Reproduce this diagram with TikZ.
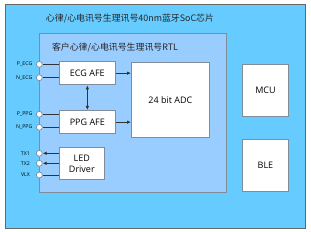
\documentclass[tikz,border=0pt]{standalone}
\usepackage{fontspec}
\setmainfont{Open Sans}
\newfontfamily\cjk{Noto Sans CJK SC}
\usetikzlibrary{arrows.meta}
\definecolor{outerblue}{HTML}{66CCFF}
\definecolor{innerblue}{HTML}{99CCFF}
\definecolor{edgegray}{HTML}{7F8C99}
\tikzset{
  blk/.style={draw=edgegray, line width=0.8pt, fill=white, inner sep=0pt, anchor=north west},
  pin/.style={circle, draw=edgegray, line width=0.7pt, fill=white, minimum size=6pt, inner sep=0pt},
  pinlab/.style={font=\fontsize{5.2}{6}\selectfont, anchor=east, inner sep=0pt},
  wire/.style={line width=0.8pt, draw=black!80},
  arr/.style={wire, -{Latex[length=4pt,width=3.5pt]}},
  darr/.style={wire, {Latex[length=4pt,width=3.5pt]}-{Latex[length=4pt,width=3.5pt]}},
  lbl/.style={font=\fontsize{9}{10}\selectfont, align=center}
}
\begin{document}
\begin{tikzpicture}[x=1pt,y=-1pt]
\useasboundingbox (0,0) rectangle (311,232);
\fill[white] (0,0) rectangle (311,232);
% outer chip
\node[draw=gray!80!black, line width=0.8pt, fill=outerblue, minimum width=300pt, minimum height=224pt, inner sep=0pt, anchor=north west] (chip) at (5,4.5) {};
\node[font=\cjk\fontsize{8.9}{10}\selectfont, text=black!85] (title) at (130,19) {心律/心电讯号生理讯号40nm蓝牙SoC芯片};
% inner RTL
\node[draw=edgegray, line width=0.8pt, fill=innerblue, minimum width=187pt, minimum height=158.5pt, inner sep=0pt, anchor=north west] (rtl) at (39.3,33.5) {};
\node[font=\cjk\fontsize{8.9}{10}\selectfont, text=black!85] (rtltitle) at (115,47.5) {客户心律/心电讯号生理讯号RTL};
% blocks
\node[blk, minimum width=56.5pt, minimum height=23.5pt] (ecg) at (58.7,61) {};
\node[lbl] at (ecg.center) {ECG AFE};
\node[blk, minimum width=56.5pt, minimum height=23.5pt] (ppg) at (58.7,110) {};
\node[lbl] at (ppg.center) {PPG AFE};
\node[blk, minimum width=78pt, minimum height=74.5pt] (adc) at (131,62.3) {};
\node[lbl] at (adc.center) {24 bit ADC};
\node[blk, minimum width=45.5pt, minimum height=32pt] (led) at (58.7,147.3) {};
\node[lbl, font=\fontsize{9}{10.5}\selectfont] at (led.center) {LED\\Driver};
\node[blk, minimum width=46.5pt, minimum height=51.5pt] (mcu) at (241.8,64.5) {};
\node[lbl] at (mcu.center) {MCU};
\node[blk, minimum width=46.5pt, minimum height=51.5pt] (ble) at (241.8,139.5) {};
\node[lbl] at (ble.center) {BLE};
% pins
\node[pin] (pecg) at (39.3,64.3) {};
\node[pin] (necg) at (39.3,77.7) {};
\node[pin] (pppg) at (39.3,114.3) {};
\node[pin] (nppg) at (39.3,127.3) {};
\node[pin] (tx1) at (39.3,153.3) {};
\node[pin] (tx2) at (39.3,163.3) {};
\node[pin] (vlx) at (39.3,175) {};
\node[pinlab] at (32.5,64.3) {P\_ECG};
\node[pinlab] at (32.5,77.7) {N\_ECG};
\node[pinlab] at (32.5,114.3) {P\_PPG};
\node[pinlab] at (32.5,127.3) {N\_PPG};
\node[pinlab] at (30,153.3) {TX1};
\node[pinlab] at (30,163.3) {TX2};
\node[pinlab] at (30,175) {VLX};
% wires
\draw[wire] (pecg.east) -- (pecg.east -| ecg.west);
\draw[wire] (necg.east) -- (necg.east -| ecg.west);
\draw[wire] (pppg.east) -- (pppg.east -| ppg.west);
\draw[wire] (nppg.east) -- (nppg.east -| ppg.west);
\draw[arr] (tx1.east -| led.west) -- (tx1.east);
\draw[arr] (tx2.east -| led.west) -- (tx2.east);
\draw[wire] (vlx.east) -- (vlx.east -| led.west);
\draw[arr] (ecg.east) -- (ecg.east -| adc.west);
\draw[arr] (ppg.east) -- (ppg.east -| adc.west);
\draw[darr] (ecg.south) -- (ppg.north);
\end{tikzpicture}
\end{document}
